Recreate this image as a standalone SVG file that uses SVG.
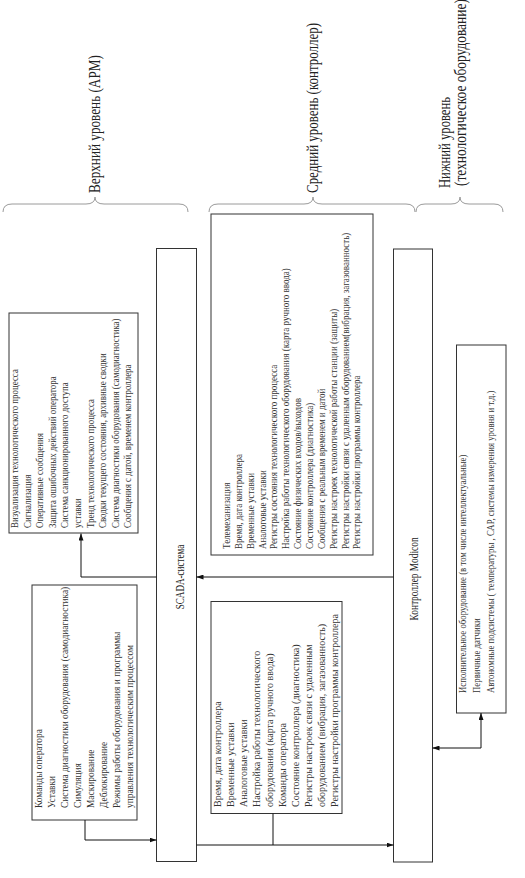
<svg xmlns="http://www.w3.org/2000/svg" width="525" height="878" viewBox="0 0 525 878">
<style>
.box{fill:#fff;stroke:#333;stroke-width:1}
.brace{fill:none;stroke:#9a9a9a;stroke-width:1}
.conn{fill:none;stroke:#111;stroke-width:1}
.lvl{font-family:"Liberation Serif","Times New Roman",serif;font-size:16px;fill:#222}
.big{font-family:"Liberation Serif","Times New Roman",serif;font-size:13px;fill:#222}
.sm{font-family:"Liberation Serif","Times New Roman",serif;font-size:10px;fill:#333}
</style>
<defs>
<marker id="arr" viewBox="0 0 7 5" refX="7" refY="2.5" markerWidth="7" markerHeight="5" markerUnits="userSpaceOnUse" orient="auto-start-reverse">
<path d="M0,0 L7,2.5 L0,5 z" fill="#111"/>
</marker>
</defs>
<rect width="525" height="878" fill="#fff"/>

<g id="levels">
<path class="brace" d="M3,212 Q3,204 12,204 H86 Q95,204 95,197 Q95,204 104,204 H179 Q188,204 188,212"/>
<path class="brace" d="M209,212 Q209,204 218,204 H304 Q313,204 313,197 Q313,204 322,204 H406 Q415,204 415,212"/>
<path class="brace" d="M416,212 Q416,204 425,204 H451 Q460,204 460,197 Q460,204 469,204 H494 Q503,204 503,212"/>
<text class="lvl" transform="translate(100,193) rotate(-90) scale(0.825,1)">Верхний уровень (АРМ)</text>
<text class="lvl" transform="translate(318,193) rotate(-90) scale(0.81,1)">Средний уровень (контроллер)</text>
<text class="lvl" transform="translate(450,188) rotate(-90) scale(0.79,1)">Нижний уровень</text>
<text class="lvl" transform="translate(466,186) rotate(-90) scale(0.84,1)">(технологическое оборудование)</text>
</g>

<g id="arm">
<rect class="box" x="9" y="313" width="129" height="220"/>
<g class="sm">
<text transform="translate(18,528) rotate(-90) scale(0.89,1)">Визуализация технологического процесса</text>
<text transform="translate(30.6,528) rotate(-90) scale(0.89,1)">Сигнализация</text>
<text transform="translate(43.2,528) rotate(-90) scale(0.89,1)">Оперативные сообщения</text>
<text transform="translate(55.8,528) rotate(-90) scale(0.89,1)">Защита ошибочных действий оператора</text>
<text transform="translate(68.4,528) rotate(-90) scale(0.89,1)">Система санкционированного доступа</text>
<text transform="translate(81,528) rotate(-90) scale(0.89,1)">уставки</text>
<text transform="translate(93.6,528) rotate(-90) scale(0.89,1)">Тренд технологического процесса</text>
<text transform="translate(106.2,528) rotate(-90) scale(0.89,1)">Сводки текущего состояния, архивные сводки</text>
<text transform="translate(118.8,528) rotate(-90) scale(0.89,1)">Система диагностики оборудования (самодиагностика)</text>
<text transform="translate(131.4,528) rotate(-90) scale(0.89,1)">Сообщения с датой, временем контроллера</text>
</g>
</g>

<g id="operator">
<rect class="box" x="32" y="585" width="105" height="235"/>
<g class="sm">
<text transform="translate(42,808) rotate(-90) scale(0.94,1)">Команды оператора</text>
<text transform="translate(55,808) rotate(-90) scale(0.94,1)">Уставки</text>
<text transform="translate(68,808) rotate(-90) scale(0.94,1)">Система диагностики оборудования (самодиагностика)</text>
<text transform="translate(81,808) rotate(-90) scale(0.94,1)">Симуляция</text>
<text transform="translate(94,808) rotate(-90) scale(0.94,1)">Маскирование</text>
<text transform="translate(107,808) rotate(-90) scale(0.94,1)">Деблокирование</text>
<text transform="translate(120,808) rotate(-90) scale(0.94,1)">Режимы работы оборудования и программы</text>
<text transform="translate(133,808) rotate(-90) scale(0.94,1)">управления технологическим процессом</text>
</g>
</g>

<g id="scada">
<rect class="box" x="156.5" y="248.5" width="40" height="613"/>
<text class="big" text-anchor="middle" transform="translate(183.5,577) rotate(-90) scale(0.7,1)">SCADA-система</text>
</g>

<g id="mid-top">
<rect class="box" x="211" y="214" width="162" height="341"/>
<g class="sm">
<text transform="translate(230,549) rotate(-90) scale(0.9,1)">Телемеханизация</text>
<text transform="translate(241.85,549) rotate(-90) scale(0.9,1)">Время, дата контроллера</text>
<text transform="translate(253.7,549) rotate(-90) scale(0.9,1)">Временные уставки</text>
<text transform="translate(265.55,549) rotate(-90) scale(0.9,1)">Аналоговые уставки</text>
<text transform="translate(277.4,549) rotate(-90) scale(0.9,1)">Регистры состояния технологического процесса</text>
<text transform="translate(289.25,549) rotate(-90) scale(0.9,1)">Настройка работы технологического оборудования (карта ручного ввода)</text>
<text transform="translate(301.1,549) rotate(-90) scale(0.9,1)">Состояние физических входов/выходов</text>
<text transform="translate(312.95,549) rotate(-90) scale(0.9,1)">Состояние контроллера (диагностика)</text>
<text transform="translate(324.8,549) rotate(-90) scale(0.9,1)">Сообщения с реальным временем и датой</text>
<text transform="translate(336.65,549) rotate(-90) scale(0.9,1)">Регистры настроек технологической работы станции (защиты)</text>
<text transform="translate(348.5,549) rotate(-90) scale(0.9,1)">Регистры настройки связи с удаленным оборудованием(вибрация, загазованность)</text>
<text transform="translate(360.35,549) rotate(-90) scale(0.9,1)">Регистры настройки программы контроллера</text>
</g>
</g>

<g id="mid-bottom">
<rect class="box" x="211" y="601.5" width="131" height="212"/>
<g class="sm">
<text transform="translate(221,807) rotate(-90)">Время, дата контроллера</text>
<text transform="translate(234,807) rotate(-90)">Временные уставки</text>
<text transform="translate(247,807) rotate(-90)">Аналоговые уставки</text>
<text transform="translate(260,807) rotate(-90)">Настройка работы технологического</text>
<text transform="translate(273,807) rotate(-90)">оборудования (карта ручного ввода)</text>
<text transform="translate(286,807) rotate(-90)">Команды оператора</text>
<text transform="translate(299,807) rotate(-90)">Состояние контроллера (диагностика)</text>
<text transform="translate(312,807) rotate(-90)">Регистры настроек связи с удаленным</text>
<text transform="translate(325,807) rotate(-90)">оборудованием (вибрация, загазованность)</text>
<text transform="translate(338,807) rotate(-90)">Регистры настройки программы контроллера</text>
</g>
</g>

<g id="modicon">
<rect class="box" x="393.5" y="249" width="39" height="613"/>
<text class="big" text-anchor="middle" transform="translate(418,579) rotate(-90) scale(0.72,1)">Контроллер Modicon</text>
</g>

<g id="field">
<rect class="box" x="456.5" y="345" width="49.5" height="368"/>
<g class="sm">
<text transform="translate(466,693) rotate(-90) scale(0.88,1)">Исполнительное оборудование (в том числе интеллектуальные)</text>
<text transform="translate(480,693) rotate(-90) scale(0.88,1)">Первичные датчики</text>
<text transform="translate(494,693) rotate(-90) scale(0.88,1)">Автономные подсистемы ( температуры , САР, системы измерения уровня и т.д.)</text>
</g>
</g>

<g id="connectors">
<path class="conn" d="M156.5,577 H81 V533.5" marker-end="url(#arr)"/>
<path class="conn" d="M85,820 V840 H156.5" marker-end="url(#arr)"/>
<path class="conn" d="M393.5,577 H196.5" marker-end="url(#arr)"/>
<path class="conn" d="M196.5,845 H393.5" marker-end="url(#arr)"/>
<path class="conn" d="M273,813.5 V845"/>
<path class="conn" d="M432.5,748 H481 V713" marker-start="url(#arr)" marker-end="url(#arr)"/>
</g>
</svg>
